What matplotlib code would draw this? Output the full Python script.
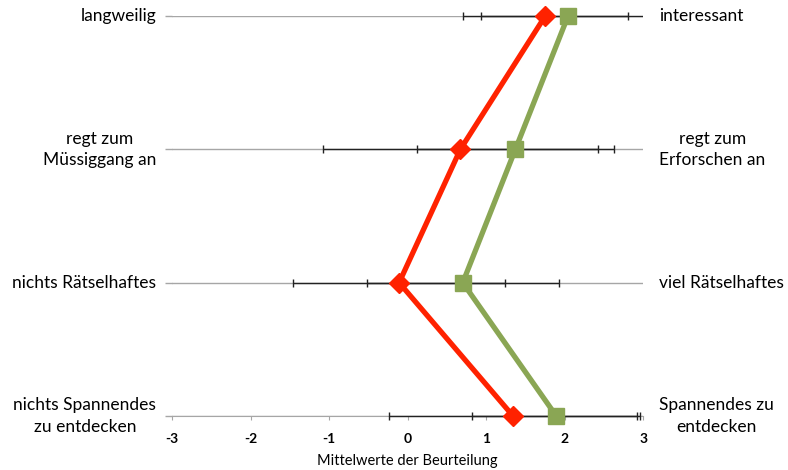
import numpy as np
import matplotlib
matplotlib.use("Agg")
import matplotlib.pyplot as plt
from matplotlib.patches import Rectangle

plt.rcParams['font.family'] = ['Lato', 'DejaVu Sans']

# Daten (Zeilen von oben nach unten)
left_labels = ["langweilig", "regt zum\nMüssiggang an", "nichts Rätselhaftes",
               "nichts Spannendes\nzu entdecken"]
right_labels = ["interessant", "regt zum\nErforschen an", "viel Rätselhaftes",
                "Spannendes zu\nentdecken"]
red_mean = [1.75, 0.67, -0.11, 1.34]
red_err = [1.05, 1.75, 1.35, 1.58]
green_mean = [2.04, 1.37, 0.70, 1.89]
green_err = [1.11, 1.25, 1.22, 1.07]
x_ticks = [-3, -2, -1, 0, 1, 2, 3]

red = '#FF2200'
green = '#8AA654'

y = np.arange(len(left_labels))[::-1]  # 3,2,1,0

fig = plt.figure(figsize=(7.88, 4.70), dpi=100)
ax = fig.add_axes([0.2183, 0.1149, 0.5983, 0.8511])

ax.set_xlim(-3, 3)
ax.set_ylim(0, 3)

# Fehlerbalken: nur horizontal auf den Achsenbereich beschneiden
clip = Rectangle((0, -0.1), 1, 1.2, transform=ax.transAxes, visible=False)
ax.add_patch(clip)
for mean, err in [(red_mean, red_err), (green_mean, green_err)]:
    eb = ax.errorbar(mean, y, xerr=err, fmt='none', ecolor='#222222',
                     elinewidth=1.0, capsize=3, capthick=1.0, zorder=2.7)
    for art in eb.lines[1] + eb.lines[2]:
        art.set_clip_path(clip)

ax.plot(red_mean, y, color=red, lw=3.8, marker='D', ms=10, zorder=4, clip_on=False)
ax.plot(green_mean, y, color=green, lw=3.8, marker='s', ms=11, zorder=3, clip_on=False)

ax.set_yticks(y)
ax.set_yticklabels([])
ax.grid(axis='y', color='#A6A6A6', lw=1.0, zorder=1)
ax.set_axisbelow(True)
ax.tick_params(axis='y', length=5, color='#A6A6A6', width=1)

for s in ['top', 'right', 'left']:
    ax.spines[s].set_visible(False)
ax.spines['bottom'].set_color('#A6A6A6')
ax.spines['bottom'].set_zorder(1)
ax.set_xticks(x_ticks)
ax.set_xticklabels([str(t) for t in x_ticks], fontsize=10, fontweight='bold')
ax.tick_params(axis='x', length=3, color='#A6A6A6', pad=9)
ax.set_xlabel("Mittelwerte der Beurteilung", fontsize=10.5, labelpad=7)

for yi, lt, rt in zip(y, left_labels, right_labels):
    ax.text(-3.2, yi, lt, ha='right', va='center', multialignment='center',
            fontsize=12.5, color='black', linespacing=1.4)
    ax.text(3.2, yi, rt, ha='left', va='center', multialignment='center',
            fontsize=12.5, color='black', linespacing=1.4)

fig.savefig('out.png', dpi=100)
